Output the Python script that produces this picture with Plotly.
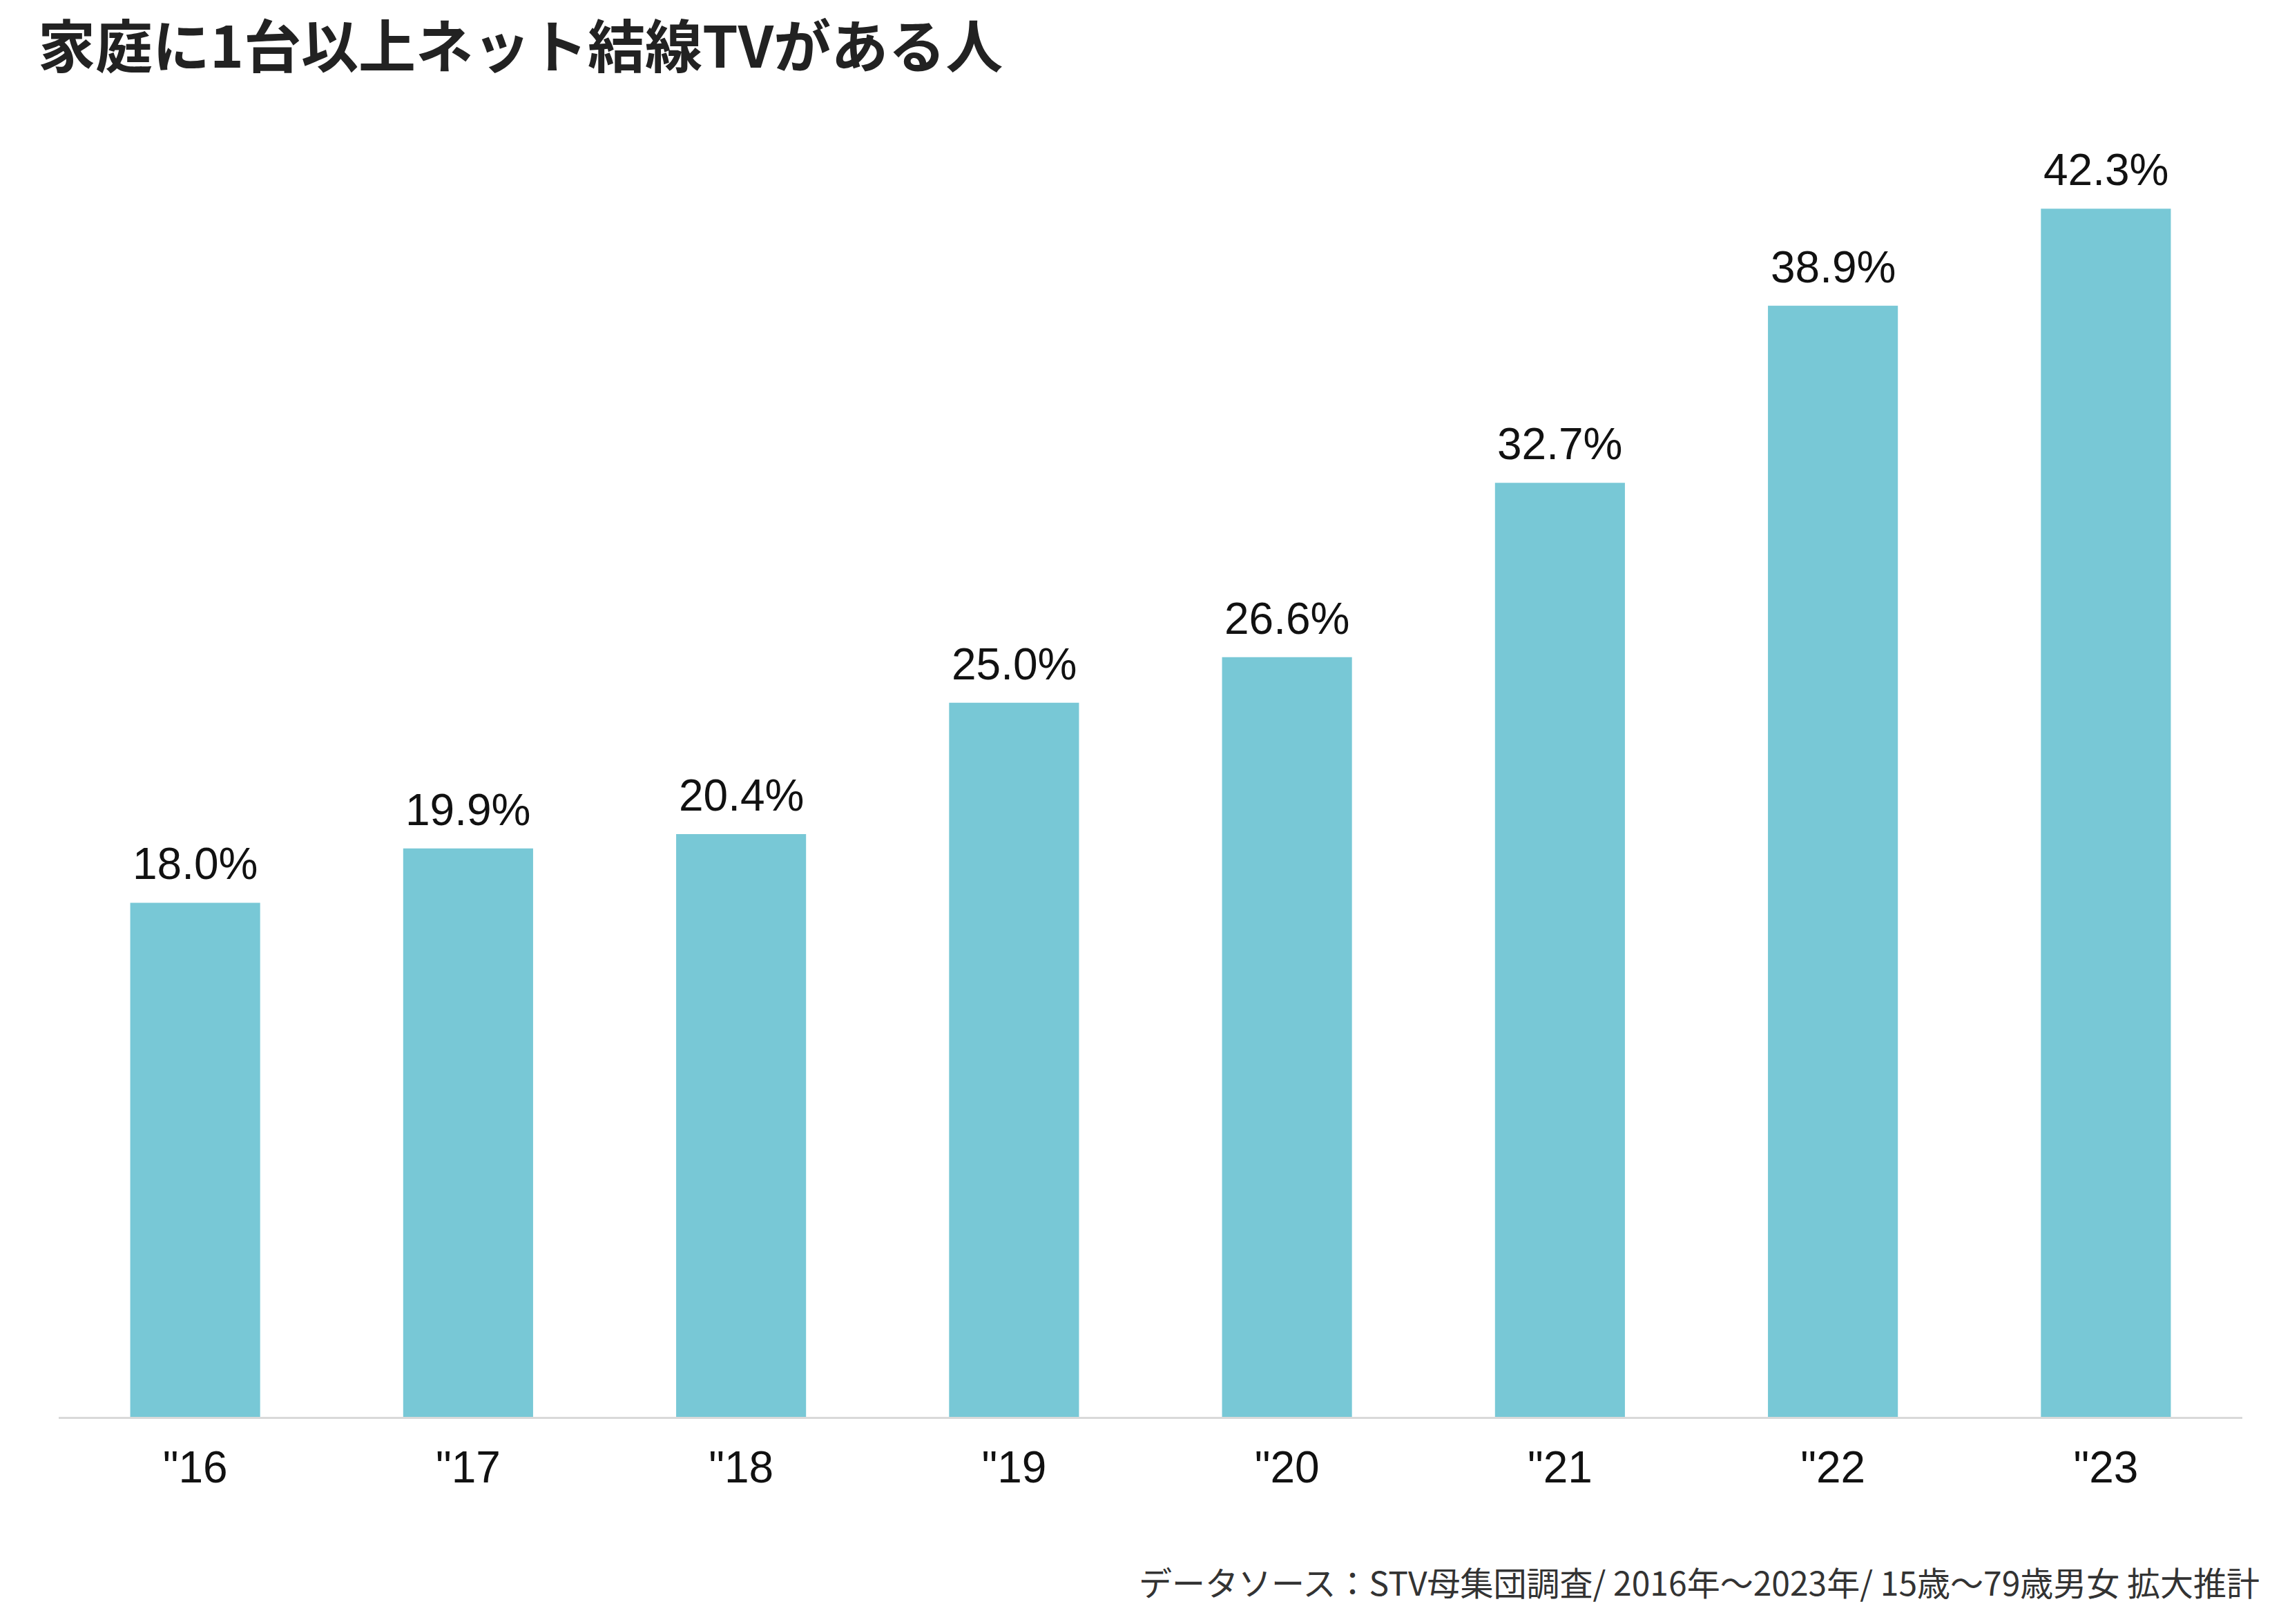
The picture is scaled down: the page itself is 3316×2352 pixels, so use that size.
import plotly.graph_objects as go

years = ['"16', '"17', '"18', '"19', '"20', '"21', '"22', '"23']
values = [18.0, 19.9, 20.4, 25.0, 26.6, 32.7, 38.9, 42.3]
labels = [f"{v:.1f}%" for v in values]

title_text = "家庭に1台以上ネット結線TVがある人"
source_text = "データソース：STV母集団調査/ 2016年～2023年/ 15歳～79歳男女 拡大推計"

BAR_COLOR = "#78C8D6"

fig = go.Figure()
fig.add_trace(go.Bar(
    x=years, y=values,
    marker=dict(color=BAR_COLOR, line=dict(width=0)),
    width=0.476,
    hoverinfo="skip",
))

for x, v, t in zip(years, values, labels):
    fig.add_annotation(
        x=x, y=v, xref="x", yref="y", text=t, showarrow=False,
        yanchor="bottom", yshift=18,
        font=dict(family="Liberation Sans, Arial", size=64, color="#111111"),
    )

fig.add_annotation(
    x=53, y=62, xref="paper", yref="paper", text=f"<b>{title_text}</b>",
    showarrow=False, xanchor="left", yanchor="middle",
    font=dict(family="Noto Sans CJK JP", size=83, color="#222222"),
)
fig.add_annotation(
    x=3274, y=2290, xref="paper", yref="paper", text=source_text,
    showarrow=False, xanchor="right", yanchor="middle",
    font=dict(family="Noto Sans CJK JP", size=48, color="#333333"),
)

W, H = 3316, 2352
ml, mr, mt, mb = 85, 69, 200, 300
pw, ph = W - ml - mr, H - mt - mb
for a in fig.layout.annotations:
    if a.xref == "paper":
        a.x = (a.x - ml) / pw
        a.y = (H - mb - a.y) / ph

fig.update_layout(
    width=W, height=H,
    margin=dict(l=ml, r=mr, t=mt, b=mb, pad=0),
    paper_bgcolor="white", plot_bgcolor="white",
    showlegend=False,
    xaxis=dict(
        showgrid=False, zeroline=False,
        showline=True, linecolor="#D9D9D9", linewidth=3,
        ticks="outside", ticklen=15, tickcolor="rgba(0,0,0,0)",
        tickfont=dict(family="Liberation Sans, Arial", size=64, color="#111111"),
        range=[-0.5, 7.5],
    ),
    yaxis=dict(
        visible=False, range=[0, 44.77], showgrid=False, zeroline=False,
    ),
)

fig.write_html("out.html")
